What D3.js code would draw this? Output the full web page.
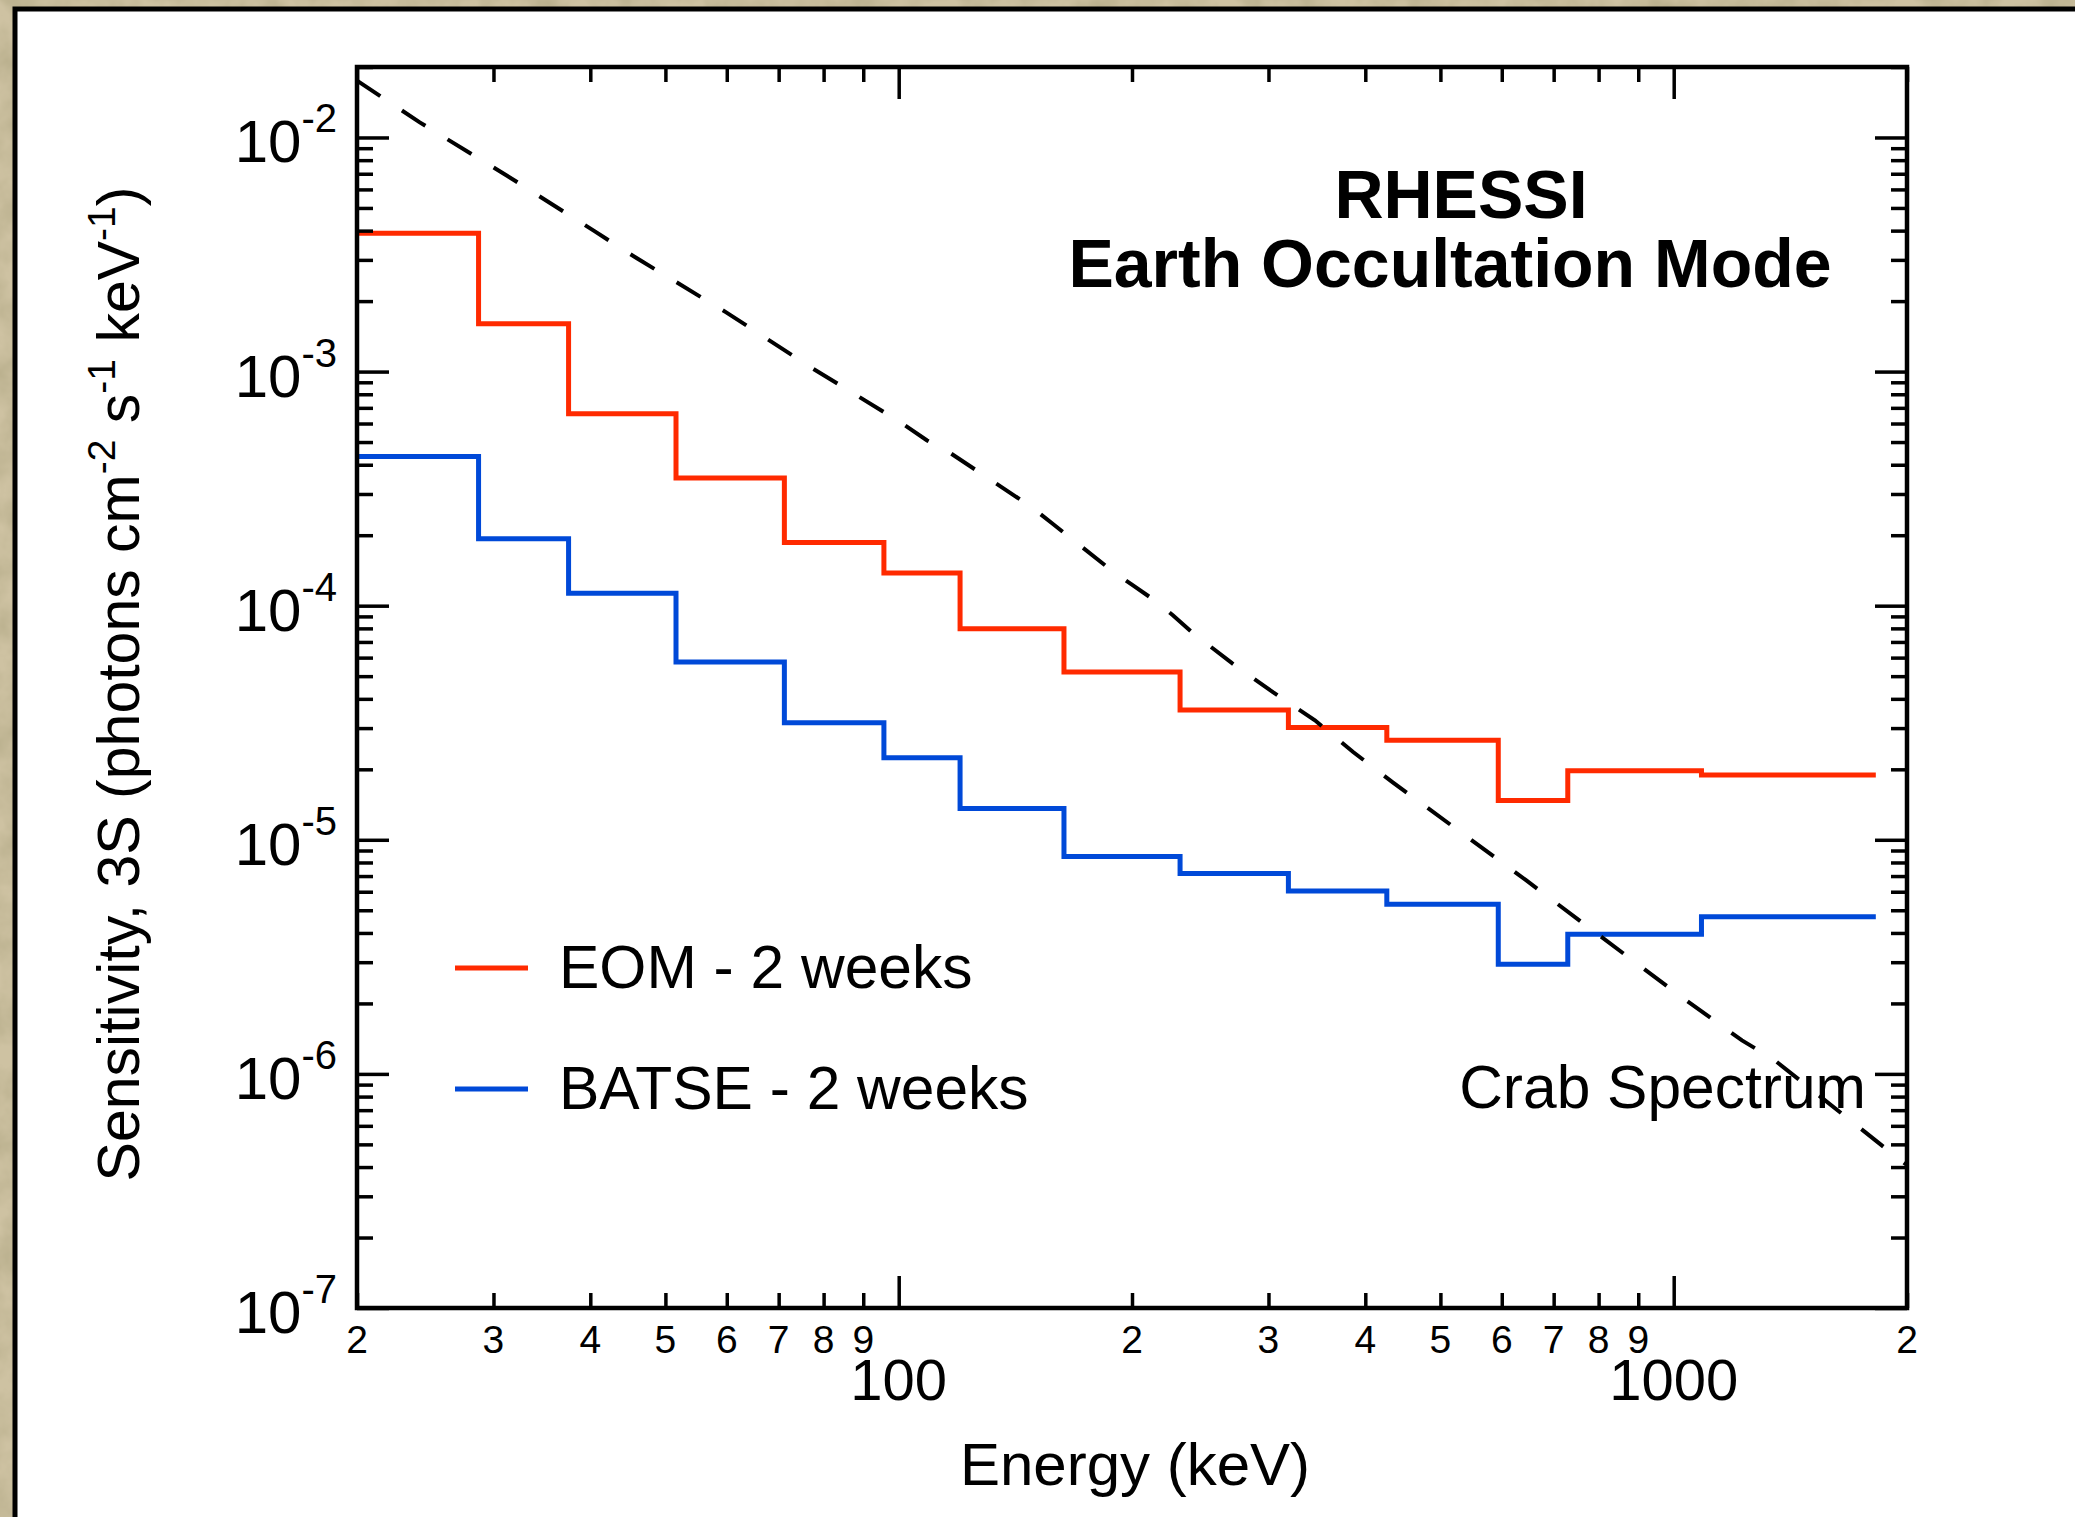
<!DOCTYPE html>
<html>
<head>
<meta charset="utf-8">
<script src="https://cdn.jsdelivr.net/npm/d3@7"></script>
<style>
body { margin: 0; background: #c6b994; }
text { font-family: "Liberation Sans", Arial, sans-serif; fill: #000; }
</style>
</head>
<body>
<script>
var width = 2075,
    height = 1517;

// bin edges in keV, one more than the levels
var energyEdges = [20, 28.7, 37.5, 51.6, 71.2, 95.7, 120, 163.4, 230.7, 318.3, 426.4, 593.8, 730, 1086, 1823];
var eomLevels = [3.90e-3, 1.60e-3, 6.61e-4, 3.51e-4, 1.86e-4, 1.38e-4, 7.98e-5, 5.21e-5, 3.58e-5, 3.02e-5, 2.66e-5, 1.47e-5, 1.97e-5, 1.89e-5];
var batseLevels = [4.34e-4, 1.93e-4, 1.13e-4, 5.75e-5, 3.16e-5, 2.24e-5, 1.36e-5, 8.49e-6, 7.18e-6, 6.05e-6, 5.31e-6, 2.94e-6, 3.95e-6, 4.69e-6];

// crab spectrum
var crabEnergy = [20, 24.1, 31.2, 40.5, 43.6, 46.0, 59.9, 77.5, 100.4, 108.8, 114.7, 148.6, 157.7, 187.4, 200.6, 212.9, 225.8, 239, 269.2, 304, 344.4, 385.8, 434, 520.8, 644.8, 791.6, 1016, 1225, 1347, 1840, 2000];
var crabFlux = [1.75e-2, 1.16e-2, 6.88e-3, 3.98e-3, 3.40e-3, 3.04e-3, 1.79e-3, 1.03e-3, 6.09e-4, 5.08e-4, 4.65e-4, 2.63e-4, 2.25e-4, 1.43e-4, 1.22e-4, 1.065e-4, 9.1e-5, 7.7e-5, 5.68e-5, 4.27e-5, 3.24e-5, 2.37e-5, 1.76e-5, 1.13e-5, 6.72e-6, 4.03e-6, 2.17e-6, 1.39e-6, 1.15e-6, 5.06e-7, 4.08e-7];

var xDomain = [20, 2000],
    yDomain = [1e-7, 2e-2];
var xMajor = [100, 1000];
var yMajor = [1e-7, 1e-6, 1e-5, 1e-4, 1e-3, 1e-2];
var seriesNames = ["EOM - 2 weeks", "BATSE - 2 weeks"];
var seriesColors = ["#ff2a00", "#0049d8"];

var plotL = 357, plotR = 1907, plotT = 67, plotB = 1308;

var x = d3.scaleLog().domain(xDomain).range([plotL, plotR]);
var y = d3.scaleLog().domain(yDomain).range([plotB, plotT]);

var svg = d3.select("body")
            .append("svg")
            .attr("width", width)
            .attr("height", height);

var defs = svg.append("defs");
var paper = defs.append("filter").attr("id", "paper");
paper.append("feTurbulence")
     .attr("type", "fractalNoise")
     .attr("baseFrequency", 0.025)
     .attr("numOctaves", 4)
     .attr("seed", 7);
paper.append("feColorMatrix")
     .attr("type", "matrix")
     .attr("values", "0 0 0 0 0.45  0 0 0 0 0.40  0 0 0 0 0.24  0 0 0 1.4 -0.45");
defs.append("clipPath").attr("id", "plotclip")
    .append("rect")
    .attr("x", plotL).attr("y", plotT)
    .attr("width", plotR - plotL).attr("height", plotB - plotT);

// beige textured backdrop and the white card
svg.append("rect").attr("width", width).attr("height", height).attr("fill", "#cec2a2");
svg.append("rect").attr("width", width).attr("height", height).attr("filter", "url(#paper)");
svg.append("rect")
   .attr("x", 15).attr("y", 9)
   .attr("width", width).attr("height", height)
   .attr("fill", "#fff")
   .attr("stroke", "#000")
   .attr("stroke-width", 5);

var g = svg.append("g");

// step lines
function steps(levels){
  var pts = levels.map(function(v, i){ return [energyEdges[i], v]; });
  pts.push([energyEdges[energyEdges.length - 1], levels[levels.length - 1]]);
  return pts;
}
var stepLine = d3.line()
                 .x(function(d){ return x(d[0]); })
                 .y(function(d){ return y(d[1]); })
                 .curve(d3.curveStepAfter);

[eomLevels, batseLevels].forEach(function(levels, i){
  g.append("path")
   .datum(steps(levels))
   .attr("d", stepLine)
   .attr("fill", "none")
   .attr("stroke", seriesColors[i])
   .attr("stroke-width", 5);
});

// crab spectrum
var crabLine = d3.line()
                 .x(function(d, i){ return x(crabEnergy[i]); })
                 .y(function(d){ return y(d); });
g.append("path")
 .datum(crabFlux)
 .attr("d", crabLine)
 .attr("clip-path", "url(#plotclip)")
 .attr("fill", "none")
 .attr("stroke", "#000")
 .attr("stroke-width", 4)
 .attr("stroke-dasharray", "28,26");

// axes, ticks pointing inward
var xTicks = x.ticks(),
    yTicks = y.ticks();
var xMinor = xTicks.filter(function(v){ return xMajor.indexOf(v) < 0; });
var yMinor = yTicks.filter(function(v){ return !yMajor.some(function(m){ return Math.abs(m - v) / m < 1e-6; }); });

function drawAxis(axis, tr){
  var a = svg.append("g").attr("transform", tr).call(axis);
  a.select(".domain").remove();
  a.selectAll("text").remove();
  a.selectAll("line").attr("stroke", "#000").attr("stroke-width", 3.5);
}
drawAxis(d3.axisBottom(x).tickValues(xMinor).tickSizeOuter(0).tickSize(-15), "translate(0," + plotB + ")");
drawAxis(d3.axisBottom(x).tickValues(xMajor).tickSizeOuter(0).tickSize(-32), "translate(0," + plotB + ")");
drawAxis(d3.axisTop(x).tickValues(xMinor).tickSizeOuter(0).tickSize(-15), "translate(0," + plotT + ")");
drawAxis(d3.axisTop(x).tickValues(xMajor).tickSizeOuter(0).tickSize(-32), "translate(0," + plotT + ")");
drawAxis(d3.axisLeft(y).tickValues(yMinor).tickSizeOuter(0).tickSize(-16), "translate(" + plotL + ",0)");
drawAxis(d3.axisLeft(y).tickValues(yMajor).tickSizeOuter(0).tickSize(-32), "translate(" + plotL + ",0)");
drawAxis(d3.axisRight(y).tickValues(yMinor).tickSizeOuter(0).tickSize(-16), "translate(" + plotR + ",0)");
drawAxis(d3.axisRight(y).tickValues(yMajor).tickSizeOuter(0).tickSize(-32), "translate(" + plotR + ",0)");

svg.append("rect")
   .attr("x", plotL).attr("y", plotT)
   .attr("width", plotR - plotL).attr("height", plotB - plotT)
   .attr("fill", "none")
   .attr("stroke", "#000")
   .attr("stroke-width", 4.5);

// x tick labels
svg.selectAll(".xdigit")
   .data(xMinor)
   .enter().append("text")
   .attr("class", "xdigit")
   .attr("x", function(d){ return x(d); })
   .attr("y", 1353)
   .attr("text-anchor", "middle")
   .attr("font-size", 39)
   .text(function(d){ return String(d).charAt(0); });
svg.selectAll(".xdecade")
   .data(xMajor)
   .enter().append("text")
   .attr("class", "xdecade")
   .attr("x", function(d){ return x(d); })
   .attr("y", 1400)
   .attr("text-anchor", "middle")
   .attr("font-size", 58)
   .text(function(d){ return d; });

// y tick labels 10^n
var ylab = svg.selectAll(".ylab")
   .data(yMajor)
   .enter().append("text")
   .attr("class", "ylab")
   .attr("x", 337)
   .attr("y", function(d){ return y(d) + 25; })
   .attr("text-anchor", "end");
ylab.append("tspan").attr("font-size", 60).text("10");
ylab.append("tspan").attr("font-size", 40).attr("dy", -30)
    .text(function(d){ return "-" + Math.round(-Math.log10(d)); });

// axis titles
svg.append("text")
   .attr("x", (plotL + plotR) / 2 + 3)
   .attr("y", 1485)
   .attr("text-anchor", "middle")
   .attr("font-size", 60)
   .text("Energy (keV)");

var yt = svg.append("text")
   .attr("transform", "translate(139,684) rotate(-90)")
   .attr("text-anchor", "middle")
   .attr("font-size", 59);
yt.append("tspan").text("Sensitivity, 3S (photons cm");
yt.append("tspan").attr("font-size", 39).attr("dy", -24).text("-2");
yt.append("tspan").attr("dy", 24).text(" s");
yt.append("tspan").attr("font-size", 39).attr("dy", -24).text("-1");
yt.append("tspan").attr("dy", 24).text(" keV");
yt.append("tspan").attr("font-size", 39).attr("dy", -24).text("-1");
yt.append("tspan").attr("dy", 24).text(")");

// title
svg.append("text")
   .attr("x", 1461).attr("y", 218)
   .attr("text-anchor", "middle")
   .attr("font-size", 68).attr("font-weight", "bold")
   .text("RHESSI");
svg.append("text")
   .attr("x", 1450).attr("y", 287)
   .attr("text-anchor", "middle")
   .attr("font-size", 68).attr("font-weight", "bold")
   .text("Earth Occultation Mode");

// legend
var legendY = [968, 1089];
seriesNames.forEach(function(name, i){
  svg.append("line")
     .attr("x1", 455).attr("x2", 528)
     .attr("y1", legendY[i]).attr("y2", legendY[i])
     .attr("stroke", seriesColors[i])
     .attr("stroke-width", 5);
  svg.append("text")
     .attr("x", 559).attr("y", legendY[i] + 20)
     .attr("font-size", 60.5)
     .text(name);
});

svg.append("text")
   .attr("x", 1866).attr("y", 1108)
   .attr("text-anchor", "end")
   .attr("font-size", 60.5)
   .text("Crab Spectrum");
</script>
</body>
</html>
